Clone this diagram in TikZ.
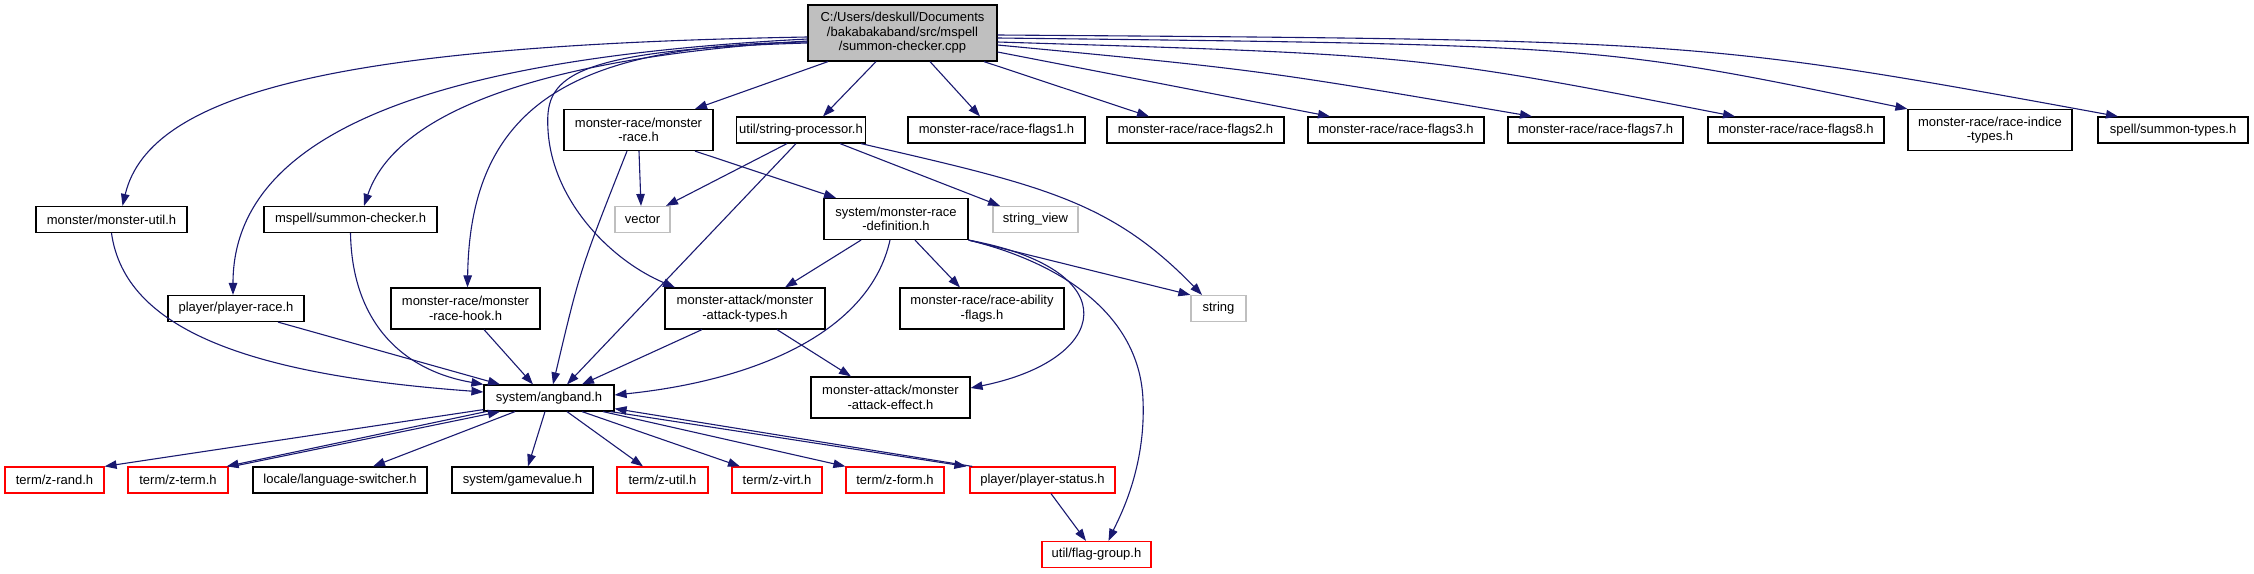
\documentclass[tikz,border=0pt]{standalone}
\usepackage{fontspec}
\setmainfont{Liberation Sans}
\usetikzlibrary{arrows.meta}
\definecolor{edgeblue}{HTML}{191970}
\definecolor{sysgray}{HTML}{BFBFBF}

\tikzset{
    hdr/.style={draw=black, line width=1.2pt, fill=white, align=center,
        font=\fontsize{13}{14.5}\selectfont, inner xsep=3pt, inner ysep=1pt,
        minimum height=26pt},
    hdrtwo/.style={hdr, minimum height=41pt},
    syshdr/.style={hdr, draw=sysgray},
    cuthdr/.style={hdr, draw=red},
    inc/.style={edgeblue, line width=1.1pt, -{Triangle[length=12pt,width=8.5pt]}},
}

\begin{document}
\begin{tikzpicture}[x=1pt, y=-1pt]
        \useasboundingbox (0,0) rectangle (2254,573);

        % Source file on top
        \node[hdr, fill=sysgray, minimum width=189pt, minimum height=56pt] (root) at (902.5,33)
            {C:/Users/deskull/Documents\\/bakabakaband/src/mspell\\/summon-checker.cpp};

        % First row of headers
        \node[hdrtwo, minimum width=149pt] (mrace) at (638.5,130) {monster-race/monster\\-race.h};
        \node[hdr, minimum width=128pt] (strproc) at (801,130) {util/string-processor.h};
        \node[hdr, minimum width=177pt] (flags1) at (996.5,130) {monster-race/race-flags1.h};
        \node[hdr, minimum width=177pt] (flags2) at (1195.5,130) {monster-race/race-flags2.h};
        \node[hdr, minimum width=176pt] (flags3) at (1396,130) {monster-race/race-flags3.h};
        \node[hdr, minimum width=175pt] (flags7) at (1595.5,130) {monster-race/race-flags7.h};
        \node[hdr, minimum width=176pt] (flags8) at (1796,130) {monster-race/race-flags8.h};
        \node[hdrtwo, minimum width=164pt] (indice) at (1990,130) {monster-race/race-indice\\-types.h};
        \node[hdr, minimum width=150pt] (sumtypes) at (2173,130) {spell/summon-types.h};

        % Second row
        \node[hdr, minimum width=151pt] (mutil) at (111.5,219.5) {monster/monster-util.h};
        \node[hdr, minimum width=173pt] (schk) at (350.5,219.5) {mspell/summon-checker.h};
        \node[syshdr, minimum width=55pt] (vector) at (642.5,219.5) {vector};
        \node[hdrtwo, minimum width=144pt] (mrdef) at (896,219) {system/monster-race\\-definition.h};
        \node[syshdr, minimum width=85pt] (strview) at (1035.5,219.5) {string\_view};

        % Third row
        \node[hdr, minimum width=136pt] (prace) at (236,308.5) {player/player-race.h};
        \node[hdrtwo, minimum width=149pt] (hook) at (465.5,308.5) {monster-race/monster\\-race-hook.h};
        \node[hdrtwo, minimum width=160pt] (atypes) at (745,308.5) {monster-attack/monster\\-attack-types.h};
        \node[hdrtwo, minimum width=164pt] (ability) at (982,308.5) {monster-race/race-ability\\-flags.h};
        \node[syshdr, minimum width=55pt] (string) at (1218.5,308.5) {string};

        % Fourth row
        \node[hdr, minimum width=130pt] (angband) at (549,398) {system/angband.h};
        \node[hdrtwo, minimum width=159pt] (aeffect) at (890.5,397.5) {monster-attack/monster\\-attack-effect.h};

        % Bottom rows
        \node[cuthdr, minimum width=99pt] (zrand) at (54.5,480) {term/z-rand.h};
        \node[cuthdr, minimum width=100pt] (zterm) at (178,480) {term/z-term.h};
        \node[hdr, minimum width=174pt] (langsw) at (340,480) {locale/language-switcher.h};
        \node[hdr, minimum width=141pt] (gamevalue) at (522.5,480) {system/gamevalue.h};
        \node[cuthdr, minimum width=91pt] (zutil) at (662.5,480) {term/z-util.h};
        \node[cuthdr, minimum width=90pt] (zvirt) at (777,480) {term/z-virt.h};
        \node[cuthdr, minimum width=98pt] (zform) at (895,480) {term/z-form.h};
        \node[cuthdr, minimum width=145pt] (pstatus) at (1042.5,480) {player/player-status.h};
        \node[cuthdr, minimum width=109pt] (flaggrp) at (1096.5,554.5) {util/flag-group.h};

        % Includes of the source file
        \draw[inc] ([yshift=-4pt]root.west) .. controls (350,45) and (150,90) .. ([xshift=11pt]mutil.north);
        \draw[inc] ([yshift=-6pt]root.west) .. controls (500,55) and (233,110) .. ([xshift=-3pt]prace.north);
        \draw[inc] ([yshift=-8pt]root.west) .. controls (580,55) and (400,100) .. ([xshift=13.5pt]schk.north);
        \draw[inc] ([yshift=-9pt]root.west) .. controls (580,45) and (470,100) .. ([xshift=2pt]hook.north);
        \draw[inc] ([yshift=-10pt]root.west) .. controls (560,50) and (545,80) .. (548,130)
            .. controls (552,200) and (610,260) .. ([xshift=-70pt]atypes.north);
        \draw[inc] ([xshift=-74.5pt]root.south) -- ([xshift=56.5pt]mrace.north);
        \draw[inc] ([xshift=-26.5pt]root.south) -- ([xshift=22pt]strproc.north);
        \draw[inc] ([xshift=27.5pt]root.south) -- ([xshift=-16.5pt]flags1.north);
        \draw[inc] ([xshift=81.5pt]root.south) -- ([xshift=-46.5pt]flags2.north);
        \draw[inc] ([yshift=-19pt]root.east) -- ([xshift=-66pt]flags3.north);
        \draw[inc] ([yshift=-12pt]root.east) .. controls (1260,70) .. ([xshift=-63.5pt]flags7.north);
        \draw[inc] ([yshift=-9pt]root.east) .. controls (1420,55) .. ([xshift=-61pt]flags8.north);
        \draw[inc] ([yshift=-5pt]root.east) .. controls (1600,45) .. (indice.north west);
        \draw[inc] ([yshift=-2pt]root.east) .. controls (1700,40) .. ([xshift=-55pt]sumtypes.north);

        % Includes of the headers
        \draw[inc] ([xshift=0.5pt]mrace.south) -- ([xshift=-1.5pt]vector.north);
        \draw[inc] ([xshift=56.5pt]mrace.south) -- ([xshift=-60pt]mrdef.north);
        \draw[inc] ([xshift=-11.5pt]mrace.south) .. controls (580,270) .. ([xshift=4pt]angband.north);
        \draw[inc] ([xshift=-14pt]strproc.south) -- ([xshift=23.5pt]vector.north);
        \draw[inc] ([xshift=-5pt]strproc.south) -- ([xshift=18pt]angband.north);
        \draw[inc] ([xshift=39pt]strproc.south) -- ([xshift=-35.5pt]strview.north);
        \draw[inc] ([xshift=60pt]strproc.south) .. controls (1040,185) and (1110,200) .. ([xshift=-16.5pt]string.north);
        \draw[inc] ([xshift=-35pt]mrdef.south) -- ([xshift=40pt]atypes.north);
        \draw[inc] ([xshift=-6pt]mrdef.south) .. controls (870,330) and (760,380) .. ([yshift=3pt]angband.east);
        \draw[inc] ([xshift=19pt]mrdef.south) -- ([xshift=-22pt]ability.north);
        \draw[inc] (mrdef.south east) -- (string.north west);
        \draw[inc] (mrdef.south east) .. controls (1130,270) and (1110,360) .. ([yshift=9.5pt]aeffect.east);
        \draw[inc] (mrdef.south east) .. controls (1070,265) and (1140,320) .. (1143,400)
            .. controls (1146,470) and (1118,520) .. ([xshift=12pt]flaggrp.north);
        \draw[inc] (mutil.south) .. controls (125,330) and (250,375) .. ([yshift=6pt]angband.west);
        \draw[inc] (schk.south) .. controls (352,320) and (400,370) .. (angband.north west);
        \draw[inc] ([xshift=42pt]prace.south) -- ([xshift=-49pt]angband.north);
        \draw[inc] ([xshift=18.5pt]hook.south) -- ([xshift=-16pt]angband.north);
        \draw[inc] ([xshift=-43pt]atypes.south) -- ([xshift=33pt]angband.north);
        \draw[inc] ([xshift=32pt]atypes.south) -- ([xshift=-39.5pt]aeffect.north);

        % Includes of system/angband.h
        \draw[inc] ([yshift=2pt]angband.south west) -- (zrand.north east);
        \draw[inc] ([xshift=-63pt]angband.south) -- ([xshift=-2pt]zterm.north east);
        \draw[inc] ([xshift=4pt]zterm.north east) -- ([xshift=-49pt]angband.south);
        \draw[inc] ([xshift=-34pt]angband.south) -- ([xshift=33pt]langsw.north);
        \draw[inc] ([xshift=-4pt]angband.south) -- ([xshift=5.5pt]gamevalue.north);
        \draw[inc] ([xshift=18pt]angband.south) -- ([xshift=-19.5pt]zutil.north);
        \draw[inc] ([xshift=33pt]angband.south) -- ([xshift=-37pt]zvirt.north);
        \draw[inc] ([xshift=54pt]angband.south) -- (zform.north west);
        \draw[inc] ([xshift=-4pt]angband.south east) -- ([xshift=-3pt]pstatus.north west);
        \draw[inc] ([xshift=3pt]pstatus.north west) -- ([yshift=3pt]angband.south east);
        \draw[inc] ([xshift=8.5pt]pstatus.south) -- ([xshift=-10.5pt]flaggrp.north);
\end{tikzpicture}
\end{document}
